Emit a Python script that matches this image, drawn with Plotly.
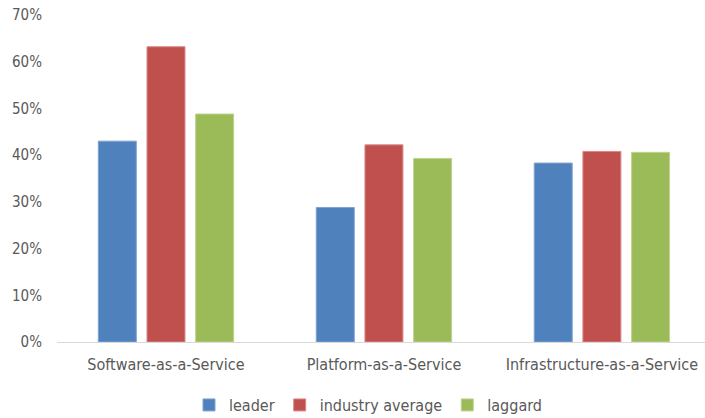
import plotly.graph_objects as go

categories = ["Software-as-a-Service", "Platform-as-a-Service", "Infrastructure-as-a-Service"]
leader = [0.430, 0.288, 0.383]
industry_average = [0.632, 0.422, 0.408]
laggard = [0.488, 0.393, 0.406]

series = [
    ("leader", leader, "#4F81BD", "#7FA3D1"),
    ("industry average", industry_average, "#C0504D", "#D98886"),
    ("laggard", laggard, "#9BBB59", "#BCD38E"),
]

FONT = "DejaVu Sans Condensed, sans-serif"
fig = go.Figure()
for name, vals, col, edge in series:
    fig.add_trace(go.Bar(x=categories, y=vals, name=name,
                         marker=dict(color=col, line=dict(color=edge, width=1))))

fig.update_layout(
    width=705, height=418,
    margin=dict(l=57, r=0, t=15, b=76),
    paper_bgcolor="white", plot_bgcolor="white",
    barmode="group", bargap=0.33, bargroupgap=0.22,
    font=dict(family=FONT, size=15, color="#595959"),
    showlegend=True,
    legend=dict(orientation="h", xref="container", yref="container",
                x=0.522, xanchor="center", y=0.031, yanchor="middle",
                font=dict(size=16, color="#595959"), itemwidth=30,
                tracegroupgap=0),
    xaxis=dict(range=[-0.5, 2.473], showgrid=False, showline=True,
               linecolor="#D9D9D9", linewidth=1, ticks="", ticklabelstandoff=8,
               tickfont=dict(size=16, color="#595959")),
    yaxis=dict(range=[0, 0.7], dtick=0.1, tickformat=".0%", showgrid=False,
               zeroline=False, showline=False, ticks="", ticklabelstandoff=14,
               tickfont=dict(size=15, color="#595959")),
)

fig.write_html("out.html")
